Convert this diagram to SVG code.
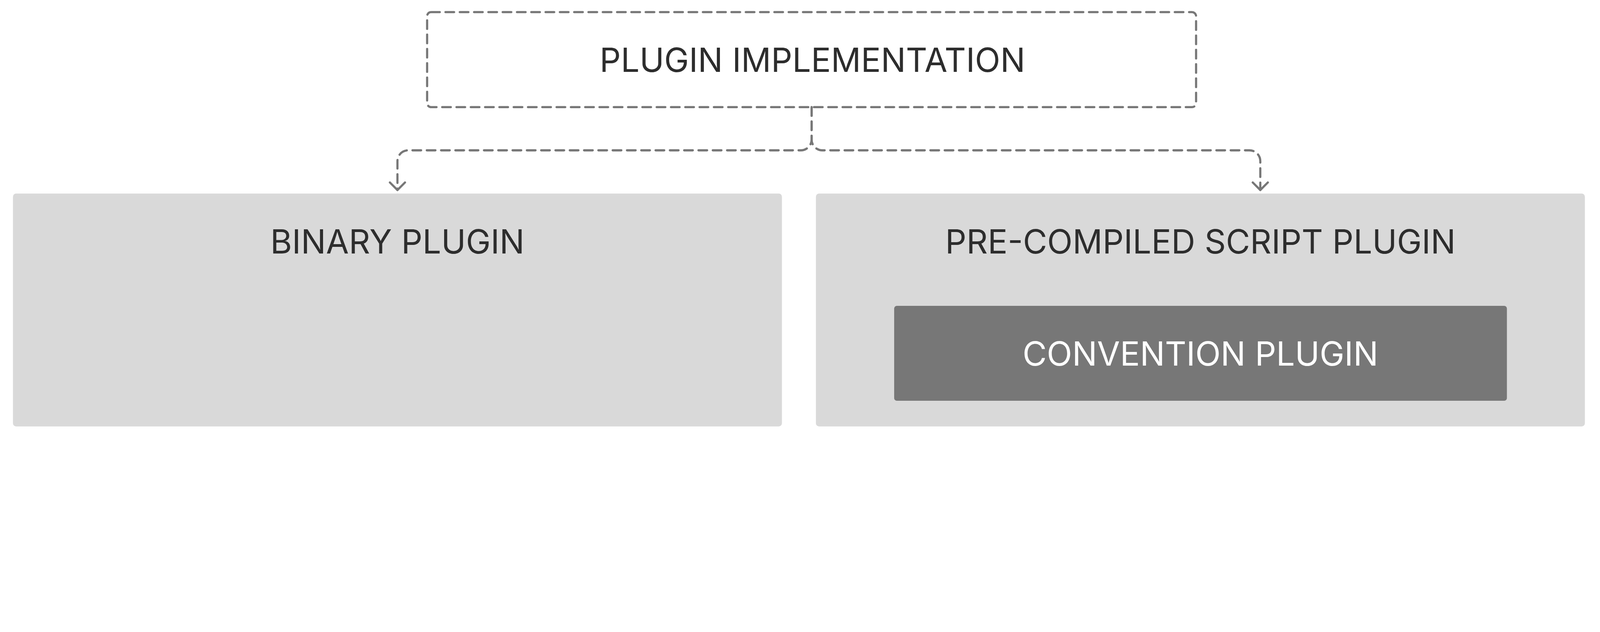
<svg xmlns="http://www.w3.org/2000/svg" width="5930" height="1618" viewBox="0 0 5930 1618" style="max-width:100vw;height:auto">
<style>
.bg{fill:#ffffff}
.lbl{font-family:"Inter","Liberation Sans",sans-serif;font-size:123px;fill:#2d2d2d;text-anchor:middle}
.lbl.w{fill:#ffffff}
.box{fill:#d9d9d9}
.inner{fill:#777777}
.dash{fill:none;stroke:#777777;stroke-width:8;stroke-dasharray:32 21;stroke-linecap:round;stroke-linejoin:round}
</style>
<defs>
<marker id="arr" markerUnits="userSpaceOnUse" markerWidth="80" markerHeight="80" refX="0" refY="0" orient="auto" overflow="visible">
<path d="M-28,-28 L0,0 L-28,28" fill="none" stroke="#777777" stroke-width="8" stroke-linecap="round" stroke-linejoin="round"/>
</marker>
</defs>
<rect class="bg" x="0" y="0" width="5930" height="1618"/>
<g id="plugin-implementation">
<rect class="dash" x="1583" y="45" width="2850" height="352" rx="15"/>
<text class="lbl" x="3011" y="266">PLUGIN IMPLEMENTATION</text>
</g>
<g id="binary-plugin">
<rect class="box" x="48" y="717" width="2850" height="863" rx="12"/>
<text class="lbl" x="1473" y="939">BINARY PLUGIN</text>
</g>
<g id="precompiled-script-plugin">
<rect class="box" x="3024" y="717" width="2850" height="863" rx="12"/>
<text class="lbl" x="4449" y="939">PRE-COMPILED SCRIPT PLUGIN</text>
</g>
<g id="convention-plugin">
<rect class="inner" x="3314" y="1133" width="2271" height="352" rx="10"/>
<text class="lbl w" x="4449" y="1355">CONVENTION PLUGIN</text>
</g>
<g id="connectors">
<path class="dash" d="M3008,397 V517 A40,40 0 0 1 2968,557 H1513 A40,40 0 0 0 1473,597 V704" marker-end="url(#arr)"/>
<path class="dash" d="M3008,397 V517 A40,40 0 0 0 3048,557 H4631 A40,40 0 0 1 4671,597 V704" marker-end="url(#arr)"/>
</g>
</svg>
